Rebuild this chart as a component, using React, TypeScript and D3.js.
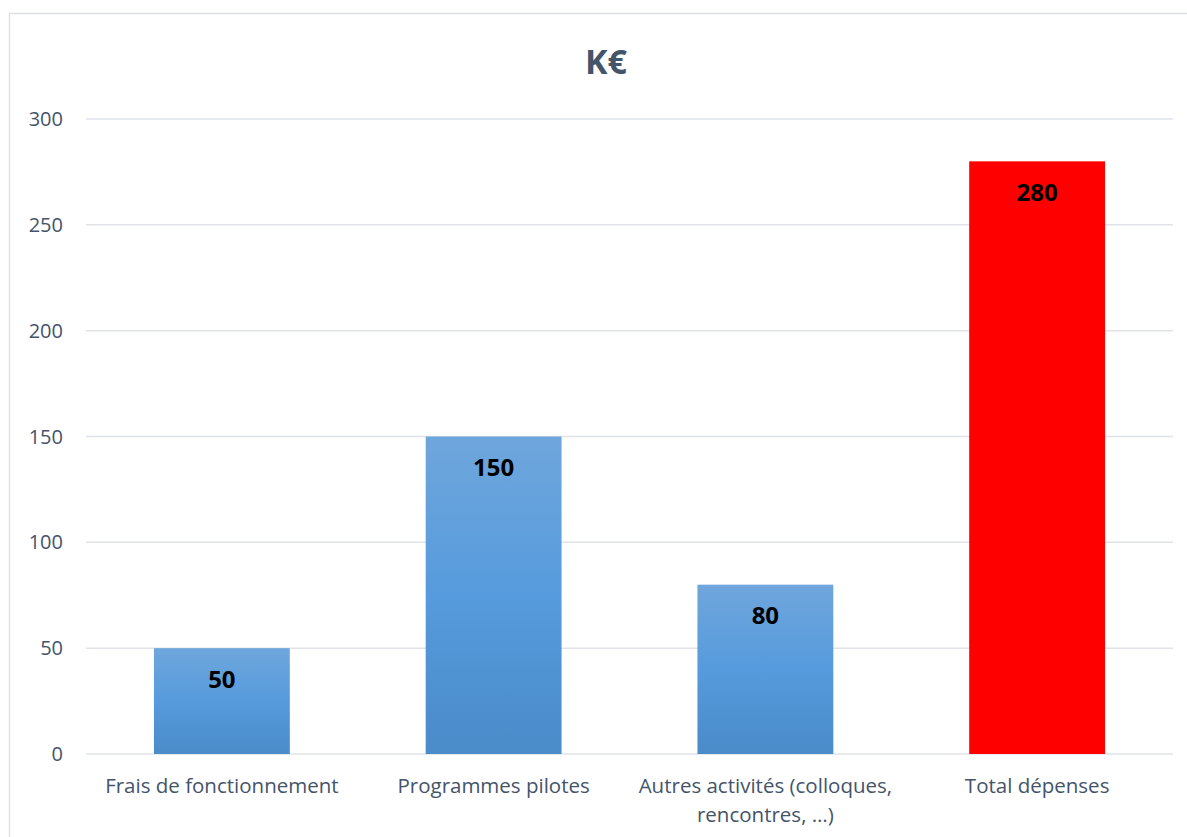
import React, { useEffect, useRef } from 'react';
import * as d3 from 'd3';

const categories = ['Frais de fonctionnement', 'Programmes pilotes', 'Autres activités (colloques, rencontres, …)', 'Total dépenses'];
const categoryLines = [['Frais de fonctionnement'], ['Programmes pilotes'], ['Autres activités (colloques,', 'rencontres, …)'], ['Total dépenses']];
const values = [50, 150, 80, 280];
const barColors = ['url(#blueGrad)', 'url(#blueGrad)', 'url(#blueGrad)', '#ff0000'];
const yTicks = [0, 50, 100, 150, 200, 250, 300];

const App: React.FC = () => {
  const svgRef = useRef<SVGSVGElement>(null);

  useEffect(() => {
    if (!svgRef.current) return;
    const svg = d3.select(svgRef.current);
    svg.selectAll('*').remove();

    const W = 1187, H = 837;
    const left = 86, right = 1173, top = 119, bottom = 754;
    const font = 'Open Sans, Noto Sans, sans-serif';
    const textColor = '#44546a';

    const defs = svg.append('defs');
    const grad = defs.append('linearGradient')
      .attr('id', 'blueGrad')
      .attr('x1', 0).attr('y1', 0).attr('x2', 0).attr('y2', 1);
    grad.append('stop').attr('offset', '0%').attr('stop-color', '#6fa6dc');
    grad.append('stop').attr('offset', '50%').attr('stop-color', '#569bdd');
    grad.append('stop').attr('offset', '100%').attr('stop-color', '#4a8bc9');

    svg.append('rect')
      .attr('width', W).attr('height', H).attr('fill', '#ffffff');

    // chart frame
    svg.append('rect')
      .attr('x', 9.5).attr('y', 13.5)
      .attr('width', W + 20).attr('height', H + 20)
      .attr('fill', 'none')
      .attr('stroke', '#dde1e7')
      .attr('stroke-width', 1.5);

    const x = d3.scaleBand<string>()
      .domain(categories)
      .range([left, right])
      .paddingInner(0.5)
      .paddingOuter(0.25);

    const y = d3.scaleLinear()
      .domain([0, 300])
      .range([bottom, top]);

    // gridlines
    svg.append('g')
      .selectAll('line')
      .data(yTicks)
      .join('line')
      .attr('x1', left).attr('x2', right)
      .attr('y1', d => y(d)).attr('y2', d => y(d))
      .attr('stroke', '#dfe3e8')
      .attr('stroke-width', 1.5);

    // y tick labels
    svg.append('g')
      .selectAll('text')
      .data(yTicks)
      .join('text')
      .attr('x', 63)
      .attr('y', d => y(d))
      .attr('dy', '0.35em')
      .attr('text-anchor', 'end')
      .attr('font-family', font)
      .attr('font-size', 20)
      .attr('fill', textColor)
      .text(d => d);

    // bars
    svg.append('g')
      .selectAll('rect')
      .data(values)
      .join('rect')
      .attr('x', (d, i) => x(categories[i])!)
      .attr('y', d => y(d))
      .attr('width', x.bandwidth())
      .attr('height', d => y(0) - y(d))
      .attr('fill', (d, i) => barColors[i]);

    // value labels
    svg.append('g')
      .selectAll('text')
      .data(values)
      .join('text')
      .attr('x', (d, i) => x(categories[i])! + x.bandwidth() / 2)
      .attr('y', d => y(d) + 31)
      .attr('dy', '0.35em')
      .attr('text-anchor', 'middle')
      .attr('font-family', font)
      .attr('font-weight', 'bold')
      .attr('font-size', 24)
      .attr('fill', '#000000')
      .text(d => d);

    // category labels
    const cat = svg.append('g')
      .selectAll('text')
      .data(categoryLines)
      .join('text')
      .attr('x', (d, i) => x(categories[i])! + x.bandwidth() / 2)
      .attr('y', 786)
      .attr('text-anchor', 'middle')
      .attr('font-family', font)
      .attr('font-size', 20.5)
      .attr('fill', textColor);
    cat.selectAll('tspan')
      .data(d => d)
      .join('tspan')
      .attr('x', function () { return (this.parentNode as SVGTextElement).getAttribute('x'); })
      .attr('dy', (d, i) => (i === 0 ? '0.35em' : 29))
      .text(d => d);

    // title
    svg.append('text')
      .attr('x', 606)
      .attr('y', 62)
      .attr('dy', '0.35em')
      .attr('text-anchor', 'middle')
      .attr('font-family', font)
      .attr('font-weight', 'bold')
      .attr('font-size', 34)
      .attr('fill', textColor)
      .text('K€');
  }, []);

  return (
    <div style={{ position: 'absolute', left: 0, top: 0, width: 1187, height: 837 }}>
      <svg ref={svgRef} width={1187} height={837} style={{ display: 'block' }} />
    </div>
  );
};

export default App;
